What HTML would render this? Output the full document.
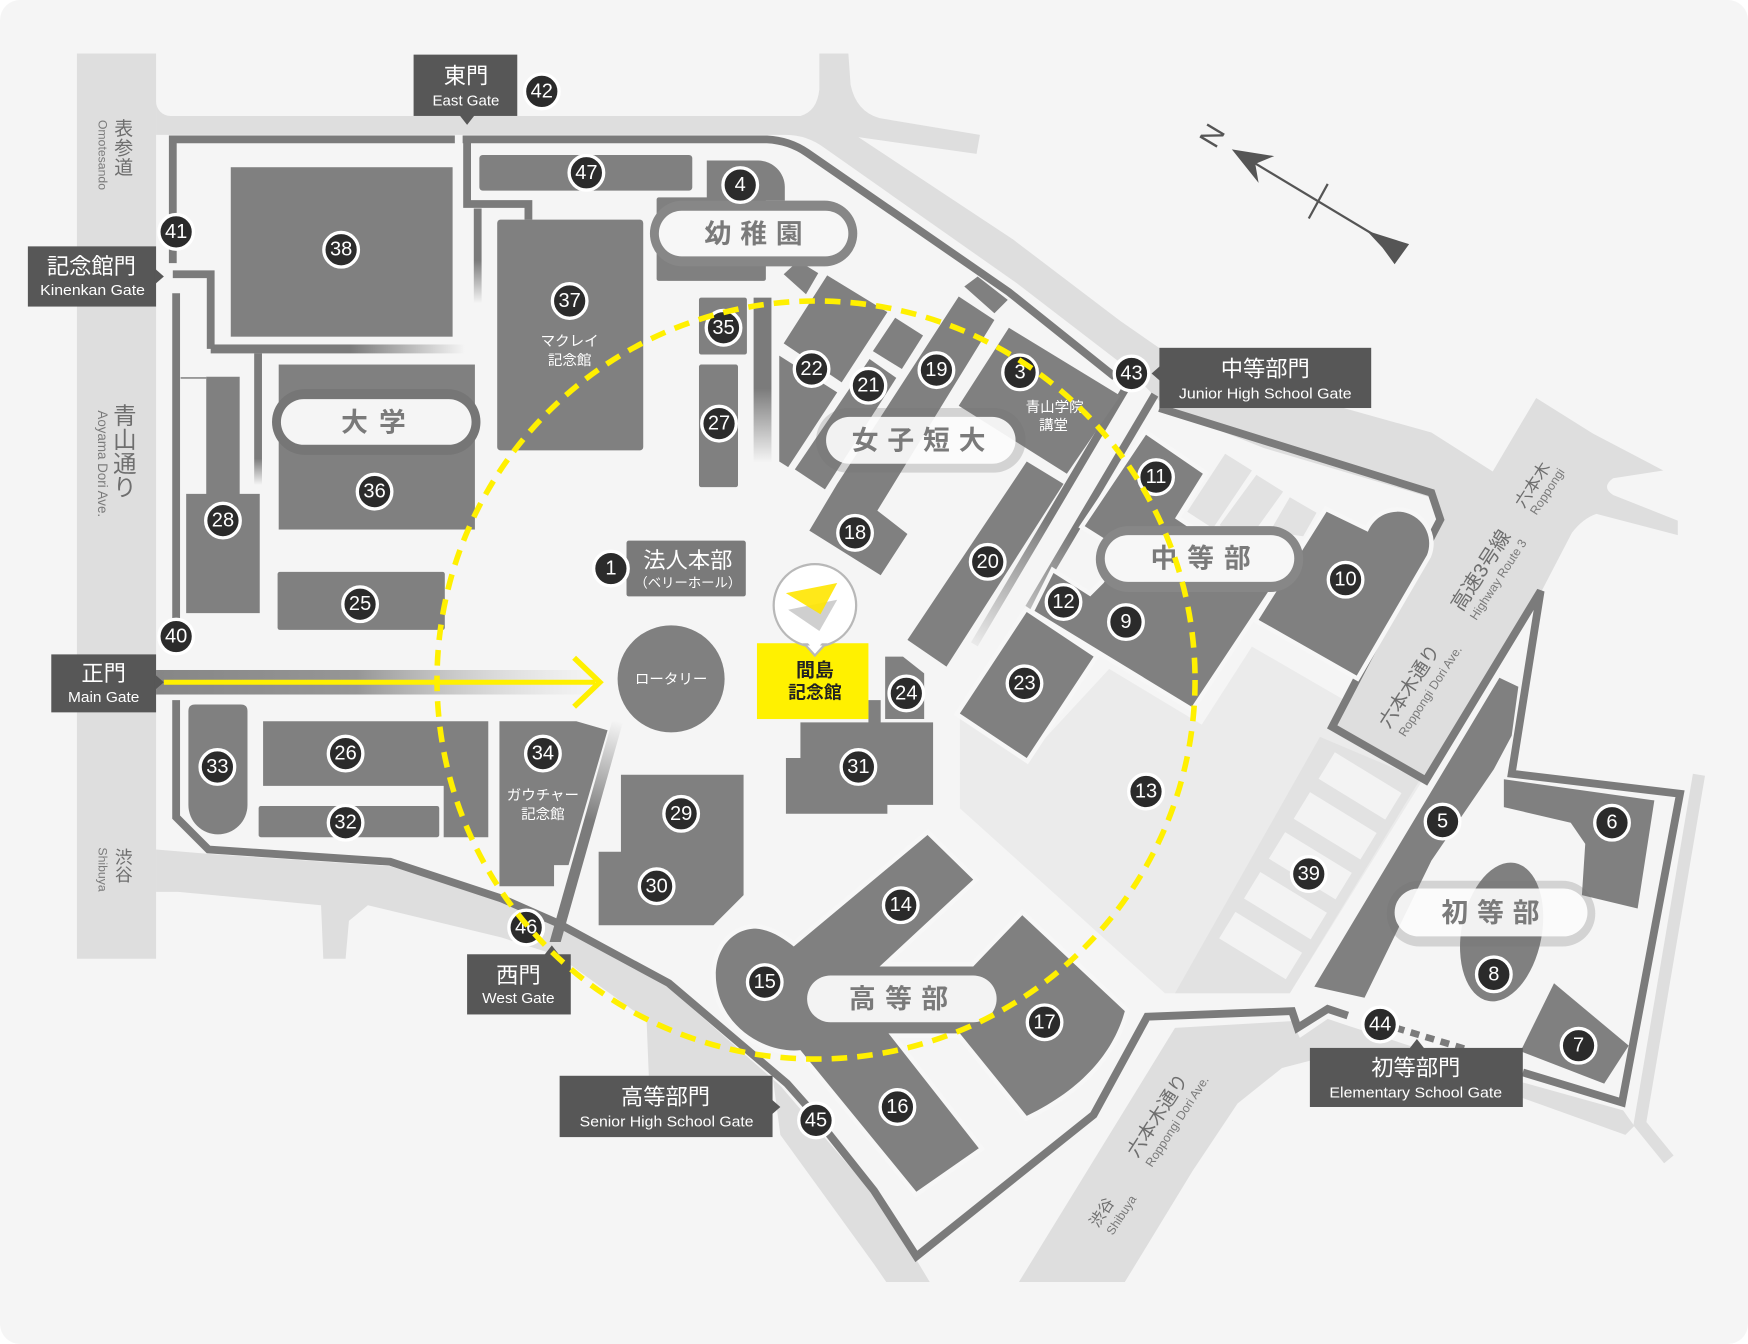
<!DOCTYPE html>
<html><head><meta charset="utf-8"><style>
html,body{margin:0;padding:0;background:#fff;}
svg{display:block;}
.b{fill:#808080;}
.h{fill:#808080;stroke:#f7f7f7;stroke-width:8;paint-order:stroke;}
.w{fill:none;stroke:#7b7b7b;stroke-width:7;stroke-linejoin:miter;}
.n circle{fill:#2b2b2b;stroke:#fff;stroke-width:3;}
.n text{fill:#fff;font-size:18px;text-anchor:middle;dominant-baseline:central;}
.lb{fill:#575757;}
.lt{fill:#fff;text-anchor:middle;dominant-baseline:central;}
.pt{fill:#7a7a7a;font-weight:bold;text-anchor:middle;dominant-baseline:central;font-size:24px;}
.rj{fill:#6e6e6e;text-anchor:middle;dominant-baseline:central;}
.re{fill:#7a7a7a;text-anchor:middle;dominant-baseline:central;}
.wt{fill:#fff;text-anchor:middle;dominant-baseline:central;font-size:13px;}
</style></head><body>
<svg width="1748" height="1344" viewBox="0 0 1568 1205.6" font-family="'Liberation Sans','Noto Sans CJK JP',sans-serif">
<defs>
<linearGradient id="gH" x1="0" y1="0" x2="1" y2="0"><stop offset="0" stop-color="#7b7b7b"/><stop offset="0.55" stop-color="#7b7b7b"/><stop offset="1" stop-color="#7b7b7b" stop-opacity="0"/></linearGradient>
<linearGradient id="gV" x1="0" y1="0" x2="0" y2="1"><stop offset="0" stop-color="#7b7b7b"/><stop offset="0.55" stop-color="#7b7b7b"/><stop offset="1" stop-color="#7b7b7b" stop-opacity="0"/></linearGradient>
<linearGradient id="gV2" x1="0" y1="0" x2="0" y2="1"><stop offset="0" stop-color="#7b7b7b"/><stop offset="0.8" stop-color="#7b7b7b"/><stop offset="1" stop-color="#7b7b7b" stop-opacity="0"/></linearGradient>
<linearGradient id="gMain" x1="0" y1="0" x2="1" y2="0"><stop offset="0" stop-color="#868686"/><stop offset="0.45" stop-color="#969696"/><stop offset="1" stop-color="#d0d0d0" stop-opacity="0"/></linearGradient>
<linearGradient id="gWest" gradientUnits="userSpaceOnUse" x1="554" y1="647" x2="498" y2="845"><stop offset="0" stop-color="#7b7b7b" stop-opacity="0"/><stop offset="0.45" stop-color="#7b7b7b"/><stop offset="1" stop-color="#7b7b7b"/></linearGradient>
<linearGradient id="gCor" gradientUnits="userSpaceOnUse" x1="1020" y1="350" x2="872" y2="592"><stop offset="0" stop-color="#7b7b7b"/><stop offset="0.5" stop-color="#7b7b7b"/><stop offset="1" stop-color="#7b7b7b" stop-opacity="0"/></linearGradient>
</defs>

<!-- card -->
<rect x="0" y="0" width="1568" height="1205.6" rx="18" fill="#f5f5f5"/>

<!-- roads -->
<g fill="#dedede">
<rect x="69" y="48" width="71" height="812"/>
<path d="M140,91 L140,104 L153,104 A13,13 0 0 1 140,91 Z"/>
<path d="M140,104 L718,104 Q733,100 735,80 L735,48 L761,48 L763,76 Q768,100 789,106 L879,121 L876,138 L770,123 L909,215 L1005,288 L1044,315 L1134,346 L1284,388 L1339,423 L1378,357 L1429,389 L1492,422 L1447,429 Q1436,437 1447,444 L1505,467 L1505,480 L1432,461 Q1420,465 1410,478 L1384,528 L1280,700 L1196,652 L1292,467 L1286,447 L1134,402 L1048,368 L1011,330 L912,254 L740,133 Q724,121 705,121 L140,121 Z"/>
<path d="M140,762 L187,766 L350,777 L450,808 L500,832 L600,886 L700,974 L784,1072 L822,1130 L834,1150 L795,1150 L784,1134 L700,1018 L693,965 L582,965 L580,915 L500,857 L450,841 L330,812 L313,826 L310,860 L290,860 L288,812 L160,800 L140,800 Z"/>
<path d="M914,1150 L1054,922 L1159,916 L1166,931 L1191,914 L1209,920 L1366,971 L1456,996 L1466,1010 L1458,1018 L1366,985 L1260,952 L1200,945 L1150,958 L1110,990 L1070,1050 L1009,1150 Z"/>
</g>
<polyline points="1524,695 1471,1008 1497,1040" fill="none" stroke="#dedede" stroke-width="11"/>

<!-- light areas -->
<polygon points="861,645 861,725 1045,891 1157,891 1276,700 1193,655 1206,628 1123,580 1078,650 995,600 921,680" fill="#ebebeb"/>
<polygon points="1184,661 1274,699 1157,891 1054,891" fill="#e2e2e2"/>
<g fill="#f3f3f3">
<polygon points="1197.4,674.8 1257.2,711.4 1242.6,735.2 1182.8,698.6"/>
<polygon points="1175.1,710.6 1234.9,747.2 1220.3,771 1160.5,734.4"/>
<polygon points="1152.8,746.4 1212.6,783 1198,806.8 1138.2,770.2"/>
<polygon points="1130.5,782.2 1190.3,818.8 1175.7,842.6 1115.9,806"/>
<polygon points="1108.2,818 1168,854.6 1153.4,878.4 1093.6,841.8"/>
</g>
<g fill="#e2e2e2">
<polygon points="1065,459 1099,407 1123,422 1088,474"/>
<polygon points="1094,471 1127,426 1151,441 1118,487"/>
<polygon points="1139,477 1157,446 1181,460 1169,481"/>
</g>

<!-- gradient strips -->
<rect x="140" y="601" width="400" height="22" fill="url(#gMain)"/>
<rect x="189" y="309" width="228" height="8" fill="url(#gH)"/>
<rect x="425" y="187" width="7" height="85" fill="url(#gV)"/>
<rect x="228" y="317" width="7" height="118" fill="url(#gV2)"/>
<rect x="676" y="267" width="16" height="148" fill="url(#gV)"/>
<polygon points="549,647 559,647 503,845 493,845" fill="url(#gWest)"/>
<line x1="1010" y1="348" x2="874" y2="578" stroke="url(#gCor)" stroke-width="7"/>
<line x1="1036" y1="354" x2="900" y2="584" stroke="url(#gCor)" stroke-width="7"/>

<!-- walls -->
<path class="w" d="M155,236 V125 H408"/>
<path class="w" d="M415,125 H688 Q708,126 724,137 L905,262 L1000,338"/>
<path class="w" d="M1040,366 L1284,442 L1292,466 L1195,652 L1279,700 L1382,530 L1356,694 L1507,712 L1455,989 L1366,962"/>
<path class="w" d="M1209,911 L1191,905 L1164,922 L1159,907 L1029,912 L981,1000 L822,1127 L784,1068 L722,990 L706,972 L600,882 L500,828 L450,806 L350,773 L187,762 L158,733 V628"/>
<path class="w" d="M158,557 V263"/>
<path class="w" d="M155,246 H189 V313"/>
<path class="w" d="M419,125 V183 H474 V197"/>
<line x1="162" y1="339" x2="185" y2="339" stroke="#8a8a8a" stroke-width="1.5"/>
<line x1="1252" y1="922" x2="1318" y2="942" stroke="#7b7b7b" stroke-width="6" stroke-dasharray="8 6"/>

<!-- buildings -->
<g class="b">
<rect x="207" y="150" width="199" height="152"/>
<rect x="430" y="139" width="191" height="32" rx="3"/>
<path d="M634,144 H680 A24,24 0 0 1 704,168 V180 H634 Z"/>
<rect x="589" y="177" width="98" height="75" rx="2"/>
<polygon points="703,246 716,234 734,245 723,264"/>
<rect x="446" y="197" width="131" height="207" rx="3"/>
<rect x="627" y="267" width="43" height="51" rx="2"/>
<rect x="627" y="327" width="35" height="110" rx="2"/>
<polygon points="742,247 796,280 755,343 703,308"/>
<polygon points="699,319 751,352 707,419 699,414"/>
<polygon points="783,315 803,285 828,301 809,331"/>
<polygon points="780,322 804,339 740,439 713,421"/>
<polygon points="865,257 877,248 904,269 892,281"/>
<polygon points="860,266 892,287 787,458 814,479 790,516 726,476 751,434"/>
<polygon points="905,294 1005,355 957,425 860,364"/>
<polygon points="921,414 954,434 849,598 814,574"/>
<rect x="250" y="327" width="176" height="148"/>
<rect x="249" y="513" width="150" height="52" rx="2"/>
<path d="M185,338 H215 V443 H233 V550 H167 V443 H185 Z"/>
<path d="M169,638 Q169,632 175,632 H216 Q222,632 222,638 V722 A26.5,26.5 0 0 1 169,722 Z"/>
<path d="M236,647 H438 V751 H398 V705 H236 Z"/>
<rect x="232" y="723" width="162" height="28" rx="2"/>
<polygon points="448,647 517,647 545,655 510,776 497,776 497,795 448,795"/>
<polygon points="557,695 667,695 667,803 640,830 537,830 537,764 557,764"/>
<circle cx="602" cy="609" r="48"/>
<polygon points="705,680 718,680 718,648 779,648 779,628 790,628 790,648 837,648 837,722 796,722 796,730 705,730"/>
<polygon points="794,589 810,589 829,604 829,645 794,645"/>
<polygon points="1345,608 1362,616 1356,660 1340,690 1284,772 1224,895 1179,885"/>
<polygon points="1349,699 1484,718 1469,815 1419,803 1422,757 1409,738 1349,724"/>
<polygon points="1394,882 1461,938 1439,972 1364,943"/>
<ellipse cx="1347" cy="836" rx="36" ry="63" transform="rotate(11 1347 836)"/>
</g>
<rect x="562" y="485" width="107" height="50" rx="2" fill="#7a7a7a"/>
<g class="h">
<polygon points="861,640 921,549 981,589 921,680"/>
<polygon points="1028,390 1079,425 1054,465 1142,524 1069,634 928,548 945,514 978,535 990,523 1008,494 973,472"/>
<path d="M1129,556 L1190,459 L1227,477 A28,28 0 0 1 1280,498 L1217,606 Z"/>
<path d="M832,749 L873,789 L789,867 L873,867 L917,821 L1009,907 C1000,940 975,975 921,1001 L861,927 L797,927 L878,1030 L822,1069 L718,942 C690,945 650,925 643,885 C638,855 655,833 678,833 C692,834 703,842 712,849 Z"/>
</g>

<!-- building texts -->
<text class="wt" x="511" y="307">マクレイ</text>
<text class="wt" x="511" y="324">記念館</text>
<text class="wt" x="946" y="366">青山学院</text>
<text class="wt" x="945" y="382">講堂</text>
<text class="wt" x="487" y="714">ガウチャー</text>
<text class="wt" x="487" y="731">記念館</text>
<text class="wt" x="602" y="610">ロータリー</text>
<text class="lt" x="617" y="503" font-size="20">法人本部</text>
<text class="lt" x="617" y="523" font-size="12">（ベリーホール）</text>

<!-- pills -->
<rect x="583" y="180" width="186" height="59" rx="29.5" fill="#878787"/>
<rect x="591" y="189" width="170" height="41" rx="20.5" fill="#fff" fill-opacity="0.93"/>
<text class="pt" x="676" y="210" textLength="88" lengthAdjust="spacing">幼稚園</text>
<rect x="244" y="349" width="187" height="59" rx="29.5" fill="#767676"/>
<rect x="252" y="358" width="171" height="41" rx="20.5" fill="#fff" fill-opacity="0.93"/>
<text class="pt" x="335" y="379" font-size="25" textLength="58" lengthAdjust="spacing">大学</text>
<rect x="732" y="366" width="188" height="58" rx="29" fill="#6e6e6e" fill-opacity="0.25"/>
<rect x="741" y="374" width="170" height="42" rx="21" fill="#fff" fill-opacity="0.9"/>
<text class="pt" x="824" y="395" font-size="25" textLength="120" lengthAdjust="spacing">女子短大</text>
<rect x="983" y="472" width="186" height="59" rx="29.5" fill="#878787"/>
<rect x="991" y="480" width="170" height="42" rx="21" fill="#fff" fill-opacity="0.93"/>
<text class="pt" x="1077" y="501" textLength="90" lengthAdjust="spacing">中等部</text>
<rect x="724" y="875" width="170" height="42" rx="21" fill="#fff" fill-opacity="0.9"/>
<text class="pt" x="806" y="896" textLength="89" lengthAdjust="spacing">高等部</text>
<rect x="1244" y="790" width="187" height="59" rx="29.5" fill="#6e6e6e" fill-opacity="0.25"/>
<rect x="1251" y="797" width="173" height="43" rx="21.5" fill="#fff" fill-opacity="0.9"/>
<text class="pt" x="1337" y="819" textLength="88" lengthAdjust="spacing">初等部</text>

<!-- main gate yellow -->
<line x1="147" y1="612" x2="534" y2="612" stroke="#fff000" stroke-width="4.5"/>
<polyline points="515,590 538,612 515,634" fill="none" stroke="#fff000" stroke-width="5"/>

<!-- Majima -->
<rect x="679" y="577" width="100" height="68" fill="#fff100"/>
<text x="731" y="602" font-size="17" fill="#222" text-anchor="middle" dominant-baseline="central" font-weight="bold">間島</text>
<text x="731" y="621" font-size="16" fill="#222" text-anchor="middle" dominant-baseline="central" font-weight="bold">記念館</text>
<circle cx="731" cy="543" r="37" fill="#fff" stroke="#b8b8b8" stroke-width="2"/>
<polygon points="722,578 731,588 740,578" fill="#fff" stroke="#b8b8b8" stroke-width="2"/>
<polygon points="723,575 739,575 731,584" fill="#fff"/>
<polygon points="707,547 751,538 735,566" fill="#cfcfcf"/>
<polygon points="705,532 751,523 736,551" fill="#ffe600" fill-opacity="0.9"/>

<!-- gate labels -->
<g>
<rect class="lb" x="371" y="49" width="93" height="55"/>
<polygon class="lb" points="412,103 419,112 426,103"/>
<text class="lt" x="418" y="68" font-size="20">東門</text>
<text class="lt" x="418" y="91" font-size="13" textLength="60" lengthAdjust="spacingAndGlyphs">East Gate</text>

<rect class="lb" x="25" y="221" width="115" height="54"/>
<polygon class="lb" points="139,241 147,248 139,255"/>
<text class="lt" x="82" y="239" font-size="20">記念館門</text>
<text class="lt" x="83" y="261" font-size="13" textLength="94" lengthAdjust="spacingAndGlyphs">Kinenkan Gate</text>

<rect class="lb" x="46" y="587" width="94" height="52"/>
<polygon class="lb" points="139,605 147,612 139,619"/>
<text class="lt" x="93" y="604" font-size="20">正門</text>
<text class="lt" x="93" y="626" font-size="13" textLength="64" lengthAdjust="spacingAndGlyphs">Main Gate</text>

<rect class="lb" x="419" y="856" width="93" height="54"/>
<polygon class="lb" points="488,857 495,848 502,857"/>
<text class="lt" x="465" y="875" font-size="20">西門</text>
<text class="lt" x="465" y="896" font-size="13" textLength="65" lengthAdjust="spacingAndGlyphs">West Gate</text>

<rect class="lb" x="502" y="965" width="191" height="55"/>
<polygon class="lb" points="692,986 700,993 692,1000"/>
<text class="lt" x="597" y="984" font-size="20">高等部門</text>
<text class="lt" x="598" y="1007" font-size="13" textLength="156" lengthAdjust="spacingAndGlyphs">Senior High School Gate</text>

<rect class="lb" x="1040" y="312" width="190" height="54"/>
<polygon class="lb" points="1041,328 1033,335 1041,342"/>
<text class="lt" x="1135" y="331" font-size="20">中等部門</text>
<text class="lt" x="1135" y="354" font-size="13" textLength="155" lengthAdjust="spacingAndGlyphs">Junior High School Gate</text>

<rect class="lb" x="1175" y="940" width="191" height="53"/>
<polygon class="lb" points="1264,941 1271,932 1278,941"/>
<text class="lt" x="1270" y="958" font-size="20">初等部門</text>
<text class="lt" x="1270" y="981" font-size="13" textLength="155" lengthAdjust="spacingAndGlyphs">Elementary School Gate</text>
</g>

<!-- road texts -->
<text class="rj" x="111" y="116" font-size="17">表</text>
<text class="rj" x="111" y="133.5" font-size="17">参</text>
<text class="rj" x="111" y="151" font-size="17">道</text>
<text class="re" transform="translate(92,139) rotate(90)" font-size="11">Omotesando</text>
<text class="rj" x="112" y="373" font-size="21">青</text>
<text class="rj" x="112" y="394.5" font-size="21">山</text>
<text class="rj" x="112" y="416" font-size="21">通</text>
<text class="rj" x="112" y="437.5" font-size="21">り</text>
<text class="re" transform="translate(92,416) rotate(90)" font-size="12">Aoyama Dori Ave.</text>
<text class="rj" x="111" y="769" font-size="16">渋</text>
<text class="rj" x="111" y="785" font-size="16">谷</text>
<text class="re" transform="translate(92,780) rotate(90)" font-size="11">Shibuya</text>

<text class="rj" transform="translate(1265,616) rotate(-57)" font-size="17">六本木通り</text>
<text class="re" transform="translate(1283,620) rotate(-57)" font-size="11">Roppongi Dori Ave.</text>
<text class="rj" transform="translate(1329,512) rotate(-57)" font-size="18">高速3号線</text>
<text class="re" transform="translate(1344,520) rotate(-57)" font-size="11">Highway Route 3</text>
<text class="rj" transform="translate(1375,435) rotate(-57)" font-size="15">六本木</text>
<text class="re" transform="translate(1388,441) rotate(-57)" font-size="11">Roppongi</text>
<text class="rj" transform="translate(1039,1001) rotate(-57)" font-size="17">六本木通り</text>
<text class="re" transform="translate(1056,1006) rotate(-57)" font-size="11">Roppongi Dori Ave.</text>
<text class="rj" transform="translate(989,1088) rotate(-57)" font-size="14">渋谷</text>
<text class="re" transform="translate(1006,1090) rotate(-57)" font-size="11">Shibuya</text>

<!-- north arrow -->
<line x1="1115" y1="140" x2="1258" y2="226" stroke="#555" stroke-width="2"/>
<polygon points="1105,134 1143,140 1126,147 1129,164" fill="#555"/>
<line x1="1191" y1="165" x2="1174" y2="196" stroke="#555" stroke-width="2"/>
<polygon points="1226,207 1264,219 1251,237 1240,222" fill="#555"/>
<text x="1088" y="122" font-size="26" fill="#555" text-anchor="middle" dominant-baseline="central" transform="rotate(-59 1088 122)">N</text>

<!-- number circles -->
<g class="n">
<g transform="translate(548,510)"><circle r="15.5"/><text>1</text></g>
<g transform="translate(915,334)"><circle r="15.5"/><text>3</text></g>
<g transform="translate(664,166)"><circle r="15.5"/><text>4</text></g>
<g transform="translate(1294,737)"><circle r="15.5"/><text>5</text></g>
<g transform="translate(1446,738)"><circle r="15.5"/><text>6</text></g>
<g transform="translate(1416,938)"><circle r="15.5"/><text>7</text></g>
<g transform="translate(1340,874)"><circle r="15.5"/><text>8</text></g>
<g transform="translate(1010,558)"><circle r="15.5"/><text>9</text></g>
<g transform="translate(1207,520)"><circle r="15.5"/><text>10</text></g>
<g transform="translate(1037,428)"><circle r="15.5"/><text>11</text></g>
<g transform="translate(954,540)"><circle r="15.5"/><text>12</text></g>
<g transform="translate(1028,710)"><circle r="15.5"/><text>13</text></g>
<g transform="translate(808,812)"><circle r="15.5"/><text>14</text></g>
<g transform="translate(686,881)"><circle r="15.5"/><text>15</text></g>
<g transform="translate(805,993)"><circle r="15.5"/><text>16</text></g>
<g transform="translate(937,917)"><circle r="15.5"/><text>17</text></g>
<g transform="translate(767,478)"><circle r="15.5"/><text>18</text></g>
<g transform="translate(840,332)"><circle r="15.5"/><text>19</text></g>
<g transform="translate(886,504)"><circle r="15.5"/><text>20</text></g>
<g transform="translate(779,346)"><circle r="15.5"/><text>21</text></g>
<g transform="translate(728,331)"><circle r="15.5"/><text>22</text></g>
<g transform="translate(919,613)"><circle r="15.5"/><text>23</text></g>
<g transform="translate(813,622)"><circle r="15.5"/><text>24</text></g>
<g transform="translate(323,542)"><circle r="15.5"/><text>25</text></g>
<g transform="translate(310,676)"><circle r="15.5"/><text>26</text></g>
<g transform="translate(645,380)"><circle r="15.5"/><text>27</text></g>
<g transform="translate(200,467)"><circle r="15.5"/><text>28</text></g>
<g transform="translate(611,730)"><circle r="15.5"/><text>29</text></g>
<g transform="translate(589,795)"><circle r="15.5"/><text>30</text></g>
<g transform="translate(770,688)"><circle r="15.5"/><text>31</text></g>
<g transform="translate(310,738)"><circle r="15.5"/><text>32</text></g>
<g transform="translate(195,688)"><circle r="15.5"/><text>33</text></g>
<g transform="translate(487,676)"><circle r="15.5"/><text>34</text></g>
<g transform="translate(649,294)"><circle r="15.5"/><text>35</text></g>
<g transform="translate(336,441)"><circle r="15.5"/><text>36</text></g>
<g transform="translate(511,270)"><circle r="15.5"/><text>37</text></g>
<g transform="translate(306,224)"><circle r="15.5"/><text>38</text></g>
<g transform="translate(1174,784)"><circle r="15.5"/><text>39</text></g>
<g transform="translate(158,571)"><circle r="15.5"/><text>40</text></g>
<g transform="translate(158,208)"><circle r="15.5"/><text>41</text></g>
<g transform="translate(486,82)"><circle r="15.5"/><text>42</text></g>
<g transform="translate(1015,335)"><circle r="15.5"/><text>43</text></g>
<g transform="translate(1238,919)"><circle r="15.5"/><text>44</text></g>
<g transform="translate(732,1005)"><circle r="15.5"/><text>45</text></g>
<g transform="translate(472,832)"><circle r="15.5"/><text>46</text></g>
<g transform="translate(526,155)"><circle r="15.5"/><text>47</text></g>
</g>

<!-- yellow dashed circle -->
<circle cx="732" cy="610" r="340" fill="none" stroke="#fff000" stroke-width="5" stroke-dasharray="14 9"/>
</svg>
</body></html>
